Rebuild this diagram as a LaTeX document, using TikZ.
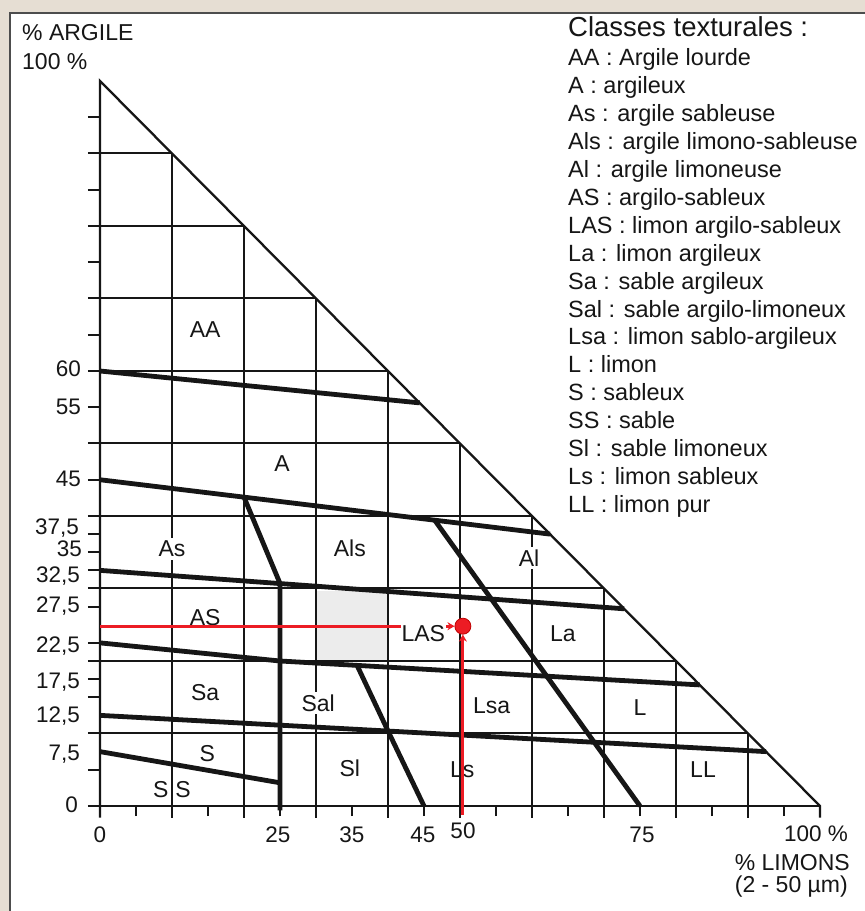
\documentclass[tikz,border=0pt]{standalone}
\usepackage{fontspec}
\setmainfont{Liberation Sans}
\usetikzlibrary{arrows.meta}
\definecolor{bgbeige}{HTML}{E6DED3}
\definecolor{framegray}{HTML}{4D4D4D}
\definecolor{ink}{HTML}{161616}
\definecolor{redpt}{HTML}{EC1C24}
\definecolor{shadegray}{HTML}{ECECEC}
\tikzset{
  gridl/.style={draw=ink, line width=2pt},
  bound/.style={draw=ink, line width=4.8pt, line join=round},
  axisl/.style={draw=ink, line width=2.3pt},
  zone/.style={font=\fontsize{23}{25}\selectfont, text=ink, inner sep=0pt},
  zonew/.style={zone, fill=white, inner xsep=1.5pt, inner ysep=3pt},
  ynum/.style={font=\fontsize{22.5}{24}\selectfont, text=ink, inner sep=0pt, anchor=base east},
  xnum/.style={font=\fontsize{22.5}{24}\selectfont, text=ink, inner sep=0pt, anchor=base},
  axtitle/.style={font=\fontsize{23}{25}\selectfont, text=ink, inner sep=0pt},
  legtxt/.style={font=\fontsize{23.5}{26}\selectfont, text=ink, inner sep=0pt, anchor=base west},
  redl/.style={draw=redpt, line width=3pt, -{Stealth[length=7pt,width=8pt]}},
  dotst/.style={circle, fill=redpt, draw=red!75!black, line width=0.8pt, minimum size=16pt, inner sep=0pt},
}
\begin{document}
\begin{tikzpicture}
\useasboundingbox (0,0) rectangle (865pt,911pt);
\fill[bgbeige] (0,0) rectangle (865pt,911pt);
\fill[white] (10pt,0) rectangle (865pt,898pt);
\draw[framegray, line width=2.4pt] (10pt,0) -- (10pt,898pt) -- (865pt,898pt);

% legend
\node[legtxt, font=\fontsize{27.5}{30}\selectfont] (legtitle) at (568pt,874pt) {Classes texturales :};
\foreach \t [count=\i] in {AA : Argile lourde, A : argileux, As : argile sableuse, Als : argile limono-sableuse, Al : argile limoneuse, AS : argilo-sableux, LAS : limon argilo-sableux, La : limon argileux, Sa : sable argileux, Sal : sable argilo-limoneux, Lsa : limon sablo-argileux, L : limon, S : sableux, SS : sable, Sl : sable limoneux, Ls : limon sableux, LL : limon pur}
  \node[legtxt] (leg\i) at (568pt,{845pt-(\i-1)*27.9pt}) {\t};

% axis titles
\node[axtitle, anchor=base west] (argtitle) at (22pt,870pt) {\% ARGILE};
\node[axtitle, anchor=base west] (arg100) at (22pt,841pt) {100 \%};
\node[axtitle, anchor=base east] (limtitle) at (850pt,40pt) {\% LIMONS};
\node[axtitle, anchor=base east] (limrange) at (848pt,18pt) {(2 - 50 µm)};

% y numbers
\node[ynum] (y60) at (81pt,534pt) {60};
\node[ynum] (y55) at (81pt,496pt) {55};
\node[ynum] (y45) at (81pt,424pt) {45};
\node[ynum] (y375) at (79pt,376pt) {37,5};
\node[ynum] (y35) at (82pt,354pt) {35};
\node[ynum] (y325) at (80pt,328pt) {32,5};
\node[ynum] (y275) at (80pt,298pt) {27,5};
\node[ynum] (y225) at (80pt,258pt) {22,5};
\node[ynum] (y175) at (80pt,222pt) {17,5};
\node[ynum] (y125) at (80pt,188pt) {12,5};
\node[ynum] (y75) at (80pt,150pt) {7,5};
\node[ynum] (y0) at (78pt,98pt) {0};

% x numbers
\node[xnum] (x0) at (100pt,68pt) {0};
\node[xnum] (x25) at (278pt,68pt) {25};
\node[xnum] (x35) at (352pt,68pt) {35};
\node[xnum] (x45) at (423pt,68pt) {45};
\node[xnum] (x50) at (463pt,72pt) {50};
\node[xnum] (x75) at (642pt,68pt) {75};
\node[xnum, anchor=base east] (x100) at (848pt,69pt) {100 \%};

\begin{scope}[shift={(100pt,105pt)}, x=7.2pt, y=7.25pt]
  \fill[shadegray] (30,20) rectangle (40,29.7);
  % grid
  \foreach \s in {10,20,...,90} \draw[gridl] (\s,-1.6) -- (\s,{100-\s});
  \foreach \s in {5,15,...,95} \draw[gridl] (\s,-1.4) -- (\s,0);
  \foreach \c in {10,20,...,90} \draw[gridl] (-1.7,\c) -- ({100-\c},\c);
  \foreach \c in {5,15,17.5,22.5,27.5,32.5,35,37.5,45,55,65,75,85,95} \draw[gridl] (-1.7,\c) -- (0,\c);
  % axes
  \draw[axisl] (0,-1.6) -- (0,100) -- (100,0) -- (100,-1.6);
  \draw[axisl] (-1.7,0) -- (100,0);
  % class boundaries
  \draw[bound] (0,60) -- (44.4,55.6);
  \draw[bound] (0,45) -- (62.5,37.5);
  \draw[bound] (0,32.5) -- (72.8,27.2);
  \draw[bound] (0,22.5) -- (25,20) -- (83.3,16.7);
  \draw[bound] (0,12.5) -- (92.5,7.5);
  \draw[bound] (0,7.5) -- (25,3.2);
  \draw[bound] (20,42.6) -- (25,30.7) -- (25,-0.6);
  \draw[bound] (35.7,19.4) -- (40,10.35) -- (45,0);
  \draw[bound] (46.5,39.4) -- (75,0);
  % zone labels
  \node[zone] (lAA) at (14.6,65.7) {AA};
  \node[zone] (lA) at (25.3,47.2) {A};
  \node[zonew] (lAs) at (10,35.5) {As};
  \node[zone] (lAls) at (34.7,35.5) {Als};
  \node[zonew] (lAl) at (59.6,34.2) {Al};
  \node[zone] (lAS) at (14.6,26) {AS};
  \node[zone] (lLa) at (64.3,23.8) {La};
  \node[zone] (lSa) at (14.6,15.7) {Sa};
  \node[zonew] (lSal) at (30.3,14.2) {Sal};
  \node[zone] (lLsa) at (54.4,13.9) {Lsa};
  \node[zone] (lL) at (75,13.6) {L};
  \node[zone] (lS) at (14.9,7.2) {S};
  \node[zone] (lSS) at (10,2.2) {S\hspace{7pt}S};
  \node[zone] (lSl) at (34.7,5.2) {Sl};
  \node[zone] (lLs) at (50.3,5.0) {Ls};
  \node[zone] (lLL) at (83.75,5.0) {LL};
  % sample point
  \node[dotst] (sample) at (50.4,24.8) {};
  \coordinate (ryaxis) at (0,24.8);
  \coordinate (rxaxis) at (50.4,-1.2);
  \draw[redl] (ryaxis) -- (sample);
  \draw[redl] (rxaxis) -- (sample);
  \node[zonew, inner xsep=0.5pt] (lLAS) at (44.9,23.8) {LAS};
\end{scope}
\end{tikzpicture}
\end{document}
